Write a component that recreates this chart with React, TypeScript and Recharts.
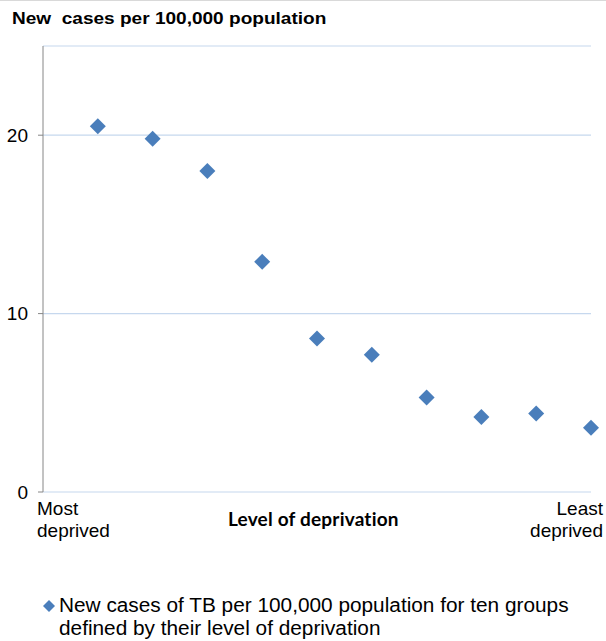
import React from "react";
import { ScatterChart, Scatter, XAxis, YAxis, CartesianGrid } from "recharts";

const groups = [1, 2, 3, 4, 5, 6, 7, 8, 9, 10];
const newCases = [20.5, 19.8, 18.0, 12.9, 8.6, 7.7, 5.3, 4.2, 4.4, 3.6];
const yTicks = [0, 10, 20];

const data = groups.map((g, i) => ({ group: g, cases: newCases[i] }));

const BLUE = "#4a7ebb";
const FONT = "'Liberation Sans', Arial, sans-serif";

const Diamond = (props: any) => {
  const { cx, cy } = props;
  const r = 8;
  return (
    <polygon
      points={`${cx},${cy - r} ${cx + r},${cy} ${cx},${cy + r} ${cx - r},${cy}`}
      fill={BLUE}
    />
  );
};

export default function App() {
  return (
    <div style={{ position: "absolute", left: 0, top: 0, width: 606, height: 641, background: "#fff", fontFamily: FONT }}>
      <div style={{ position: "absolute", left: 0, top: 0, width: 606, height: 1, background: "#d9d9d9" }} />
      <div
        style={{
          position: "absolute",
          left: 12,
          top: 9,
          fontSize: 17,
          fontWeight: "bold",
          color: "#000",
          whiteSpace: "pre",
          transform: "scaleX(1.12)",
          transformOrigin: "left top",
        }}
      >
        {"New  cases per 100,000 population"}
      </div>
      <ScatterChart width={606} height={641} margin={{ top: 46, right: 15, bottom: 149, left: 0 }}>
        <CartesianGrid vertical={false} stroke="#c6d8ee" strokeWidth={1.2} />
        <XAxis type="number" dataKey="group" domain={[0, 10]} hide height={0} />
        <YAxis
          type="number"
          dataKey="cases"
          domain={[0, 25]}
          ticks={yTicks}
          width={43}
          axisLine={{ stroke: "#868686" }}
          tickLine={{ stroke: "#868686" }}
          tickSize={5}
          tickMargin={10}
          tick={{ fill: "#000", fontSize: 19, fontFamily: FONT }}
        />
        <Scatter data={data} shape={<Diamond />} isAnimationActive={false} />
      </ScatterChart>
      <div style={{ position: "absolute", left: 37, top: 498, fontSize: 19, lineHeight: "22px", color: "#000" }}>
        Most
        <br />
        deprived
      </div>
      <div style={{ position: "absolute", right: 3, top: 498, fontSize: 19, lineHeight: "22px", color: "#000", textAlign: "right" }}>
        Least
        <br />
        deprived
      </div>
      <div
        style={{
          position: "absolute",
          left: 228,
          top: 507,
          fontSize: 19,
          fontWeight: "bold",
          fontFamily: "Lato, sans-serif",
          color: "#000",
          letterSpacing: 0.2,
        }}
      >
        Level of deprivation
      </div>
      <div style={{ position: "absolute", left: 42, top: 594, display: "flex", alignItems: "flex-start" }}>
        <svg width={14} height={23} style={{ flex: "none" }}>
          <polygon points="7,6 13,12 7,18 1,12" fill={BLUE} />
        </svg>
        <div
          style={{
            fontSize: 20,
            lineHeight: "23px",
            color: "#000",
            marginLeft: 3,
            whiteSpace: "nowrap",
            transform: "scaleX(1.04)",
            transformOrigin: "left top",
          }}
        >
          New cases of TB per 100,000 population for ten groups
          <br />
          defined by their level of deprivation
        </div>
      </div>
    </div>
  );
}
